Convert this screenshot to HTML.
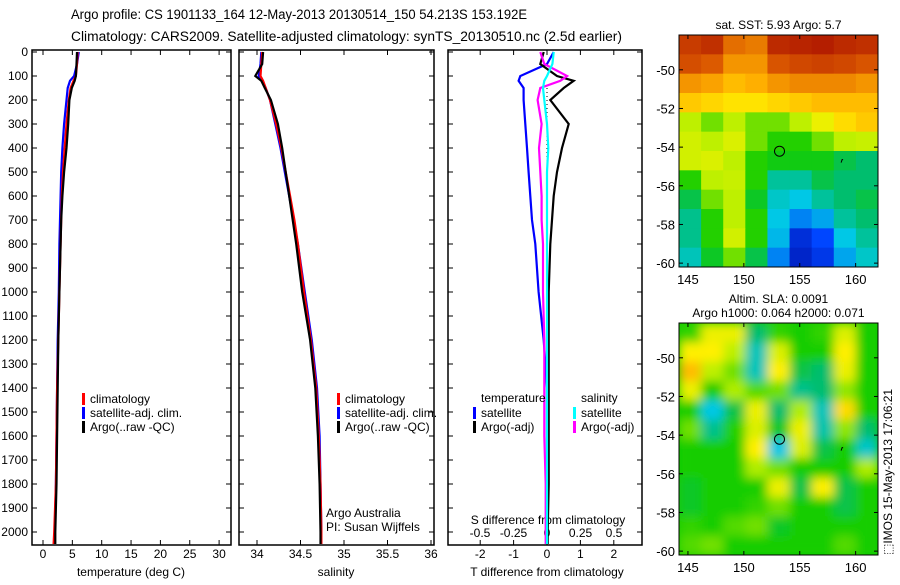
<!DOCTYPE html>
<html><head><meta charset="utf-8"><style>
body{margin:0;background:#fff;width:900px;height:580px;overflow:hidden;font-family:"Liberation Sans",sans-serif}
svg text{font-family:"Liberation Sans",sans-serif;font-size:12px;fill:#000}
</style></head><body>
<svg id="fig" width="900" height="580" viewBox="0 0 900 580" xmlns="http://www.w3.org/2000/svg">
<text x="71" y="19" textLength="456" lengthAdjust="spacingAndGlyphs" style="font-size:13.5px">Argo profile: CS 1901133_164 12-May-2013 20130514_150 54.213S 153.192E</text>
<text x="71" y="41" textLength="551" lengthAdjust="spacingAndGlyphs" style="font-size:13.5px">Climatology: CARS2009. Satellite-adjusted climatology: synTS_20130510.nc (2.5d earlier)</text>
<g id="g1"></g>
<g id="g2"></g>
<g id="g3"></g>
<g id="m1"></g>
<g id="m2"></g>
<text x="892" y="555" transform="rotate(-90 892 555)" style="font-size:12px">⬚IMOS 15-May-2013 17:06:21</text>
</svg>
<script>
// ---- data ----
const depths = [0,50,100,120,150,200,300,400,500,600,700,800,1000,1200,1400,1600,1800,2000,2050];
const tempClim = [5.9,5.8,5.6,5.2,4.7,4.4,4.0,3.7,3.4,3.2,3.1,3.0,2.8,2.6,2.4,2.3,2.2,1.9,1.8];
const tempSat  = [6.1,5.8,5.3,4.6,4.2,4.0,3.6,3.3,3.1,3.0,2.9,2.8,2.7,2.5,2.4,2.3,2.2,2.0,2.0];
const tempArgo = [5.8,5.7,5.6,5.4,4.9,4.5,4.3,4.0,3.6,3.3,3.1,3.0,2.8,2.6,2.5,2.4,2.3,2.1,2.1];
const salClim = [34.06,34.05,34.04,34.07,34.10,34.15,34.22,34.28,34.33,34.38,34.43,34.47,34.54,34.62,34.68,34.71,34.73,34.74,34.74];
const salSat  = [34.05,34.04,34.02,34.06,34.10,34.15,34.21,34.27,34.32,34.37,34.42,34.47,34.55,34.63,34.69,34.72,34.73,34.74,34.74];
const salArgo = [34.07,34.06,33.98,34.05,34.09,34.16,34.24,34.29,34.33,34.37,34.41,34.45,34.52,34.61,34.67,34.70,34.72,34.73,34.73];
const dTsat  = [0.2,0.0,-0.8,-0.85,-0.7,-0.7,-0.65,-0.6,-0.55,-0.5,-0.45,-0.35,-0.25,-0.1,0.0,0.0,0.0,0.0,0.0];
const dTargo = [-0.1,-0.2,0.3,0.8,0.5,0.1,0.65,0.45,0.3,0.2,0.15,0.1,0.05,0.05,0.05,0.05,0.05,0.02,0.02];
const dSsat  = [0.05,0.04,0.0,-0.02,-0.03,-0.02,0.0,0.01,0.0,0.0,0.0,0.0,0.0,0.0,0.0,0.0,0.0,0.0,0.0];
const dSargo = [-0.05,-0.02,0.15,0.1,-0.05,-0.07,-0.04,-0.06,-0.05,-0.04,-0.04,-0.03,-0.03,-0.02,-0.02,-0.02,-0.01,-0.01,-0.01];
const depthTicks = [0,100,200,300,400,500,600,700,800,900,1000,1100,1200,1300,1400,1500,1600,1700,1800,1900,2000];
const tempTicks = [0,5,10,15,20,25,30];
const salTicks = [34,34.5,35,35.5,36];
const dTTicks = [-2,-1,0,1,2];
const dSTicks = [-0.5,-0.25,0,0.25,0.5];
const dSLabels = ["-0.5","-0.25","0","0.25","0.5"];
const sstGrid = [
[0.90,0.92,0.82,0.80,0.93,0.94,0.95,0.93,0.92],
[0.87,0.85,0.76,0.76,0.86,0.88,0.89,0.88,0.86],
[0.76,0.74,0.70,0.72,0.76,0.78,0.78,0.78,0.76],
[0.68,0.66,0.64,0.64,0.66,0.68,0.70,0.70,0.70],
[0.55,0.50,0.55,0.50,0.50,0.55,0.60,0.65,0.68],
[0.57,0.55,0.58,0.50,0.45,0.45,0.50,0.55,0.56],
[0.57,0.58,0.55,0.45,0.43,0.43,0.43,0.40,0.38],
[0.45,0.55,0.56,0.45,0.35,0.35,0.40,0.38,0.38],
[0.40,0.50,0.55,0.42,0.32,0.30,0.35,0.38,0.40],
[0.36,0.45,0.55,0.45,0.30,0.22,0.26,0.35,0.38],
[0.36,0.45,0.57,0.45,0.28,0.10,0.15,0.30,0.35],
[0.33,0.42,0.50,0.40,0.22,0.08,0.12,0.26,0.32]];
const slaGrid = [
[0.46,0.60,0.60,0.38,0.46,0.44,0.46,0.58,0.44],
[0.62,0.62,0.55,0.33,0.58,0.44,0.44,0.62,0.44],
[0.70,0.55,0.50,0.33,0.62,0.40,0.38,0.60,0.44],
[0.60,0.44,0.54,0.48,0.50,0.36,0.38,0.52,0.44],
[0.44,0.30,0.40,0.60,0.38,0.54,0.33,0.65,0.44],
[0.50,0.36,0.45,0.58,0.42,0.60,0.34,0.52,0.38],
[0.44,0.44,0.44,0.62,0.30,0.58,0.40,0.44,0.32],
[0.44,0.44,0.44,0.54,0.50,0.44,0.44,0.44,0.54],
[0.42,0.44,0.44,0.44,0.60,0.40,0.62,0.40,0.44],
[0.42,0.44,0.44,0.46,0.50,0.44,0.44,0.40,0.44],
[0.46,0.44,0.48,0.50,0.42,0.44,0.44,0.44,0.44],
[0.48,0.50,0.44,0.44,0.44,0.44,0.44,0.48,0.44]];
const lonTicks = [145,150,155,160];
const latTicks = [-50,-52,-54,-56,-58,-60];
const argoLon = 153.19, argoLat = -54.21;

const NS="http://www.w3.org/2000/svg";
function mk(p,t,a){const e=document.createElementNS(NS,t);for(const k in a)e.setAttribute(k,a[k]);p.appendChild(e);return e;}
function txt(p,x,y,s,anchor){const e=mk(p,'text',{x:x,y:y,'text-anchor':anchor||'start'});e.textContent=s;return e;}

const yTop=50,yBot=545;
const yD=d=>52+d*0.24;
function box(g,x0,x1){const r=mk(g,'rect',{x:x0,y:yTop,width:x1-x0,height:yBot-yTop,fill:'none',stroke:'#000','stroke-width':1.5});
}
function line(g,xs,xf,color,name){const pts=depths.map((d,i)=>xf(xs[i]).toFixed(1)+','+yD(d).toFixed(1)).join(' ');
const p=mk(g,'polyline',{points:pts,fill:'none',stroke:color,'stroke-width':2.2});
}
function xticks(g,ticks,xf,labels,y){ticks.forEach((t,i)=>{const x=xf(t);
mk(g,'line',{x1:x,x2:x,y1:yBot,y2:yBot-5,stroke:'#000'});mk(g,'line',{x1:x,x2:x,y1:yTop,y2:yTop+5,stroke:'#000'});
const e=txt(g,x,y,labels?labels[i]:String(t),'middle');});}
function yticks(g,x0,x1,labels){depthTicks.forEach(d=>{const y=yD(d);mk(g,'line',{x1:x0,x2:x0+5,y1:y,y2:y,stroke:'#000'});mk(g,'line',{x1:x1,x2:x1-5,y1:y,y2:y,stroke:'#000'});
if(labels){const e=txt(g,x0-4,y+4,String(d),'end');}});}
function legend(g,x,y,items){items.forEach((it,i)=>{mk(g,'rect',{x:x,y:y+i*14-9,width:3,height:12,fill:it[0]});
const e=txt(g,x+8,y+i*14+1,it[1]);});}

// panel 1
const g1=document.getElementById('g1');const xT=v=>43+v*5.87;
box(g1,32,231);yticks(g1,32,231,true);xticks(g1,tempTicks,xT,null,558);
line(g1,tempSat,xT,'#0000ff','temp-satellite-line');line(g1,tempClim,xT,'#ff0000','temp-climatology-line');line(g1,tempArgo,xT,'#000','temp-argo-line');
legend(g1,82,402,[['#f00','climatology'],['#00f','satellite-adj. clim.'],['#000','Argo(..raw -QC)']]);
txt(g1,131,576,'temperature (deg C)','middle');
// panel 2
const g2=document.getElementById('g2');const xS=v=>257+(v-34)*87;
box(g2,239,434);yticks(g2,239,434,false);xticks(g2,salTicks,xS,null,558);
line(g2,salSat,xS,'#0000ff','sal-satellite-line');line(g2,salClim,xS,'#ff0000','sal-climatology-line');line(g2,salArgo,xS,'#000','sal-argo-line');
legend(g2,337,402,[['#f00','climatology'],['#00f','satellite-adj. clim.'],['#000','Argo(..raw -QC)']]);
txt(g2,326,517,'Argo Australia');txt(g2,326,531,'PI: Susan Wijffels');
txt(g2,336,576,'salinity','middle');
// panel 3
const g3=document.getElementById('g3');const xdT=v=>547+v*33.4;const xdS=v=>547+v*134;
box(g3,448,642);yticks(g3,448,642,false);xticks(g3,dTTicks,xdT,null,558);
dSTicks.forEach((t,i)=>{const e=txt(g3,xdS(t),537,dSLabels[i],'middle');});
txt(g3,548,524,'S difference from climatology','middle');
mk(g3,'line',{x1:xdT(0),x2:xdT(0),y1:yD(150),y2:yBot,stroke:'#000','stroke-dasharray':'1,3'});
line(g3,dTsat,xdT,'#0000ff','dT-satellite-line');line(g3,dTargo,xdT,'#000','dT-argo-line');
line(g3,dSargo,xdS,'#ff00ff','dS-argo-line');line(g3,dSsat,xdS,'#00ffff','dS-satellite-line');
txt(g3,481,402,'temperature');txt(g3,581,402,'salinity');
legend(g3,473,416,[['#00f','satellite'],['#000','Argo(-adj)']]);
legend(g3,573,416,[['#0ff','satellite'],['#f0f','Argo(-adj)']]);
txt(g3,547,576,'T difference from climatology','middle');

// maps
const cstops=[[0,[0,0,140]],[0.15,[0,70,255]],[0.3,[0,200,230]],[0.38,[0,190,110]],[0.44,[20,205,0]],[0.55,[190,240,0]],[0.62,[255,240,0]],[0.72,[255,175,0]],[0.85,[220,90,0]],[1,[160,0,0]]];
function cmap(v){for(let i=1;i<cstops.length;i++){if(v<=cstops[i][0]){const a=cstops[i-1],b=cstops[i],f=(v-a[0])/(b[0]-a[0]);
return 'rgb('+a[1].map((c,j)=>Math.round(c+(b[1][j]-c)*f)).join(',')+')';}}return 'rgb(160,0,0)';}
function map(id,grid,y0,y1,latTop,latBot,title,smooth){
const g=document.getElementById(id);const x0=679,x1=878;const lonL=144.2,lonR=162;
const xL=l=>x0+(l-lonL)*(x1-x0)/(lonR-lonL);const yL=l=>y0+(latTop-l)*(y1-y0)/(latTop-latBot);
const rows=grid.length,cols=grid[0].length;
const defs=mk(g,'defs',{});
const cid='clip'+id;const cp=mk(defs,'clipPath',{id:cid});mk(cp,'rect',{x:x0,y:y0,width:x1-x0,height:y1-y0});
if(smooth){const f=mk(defs,'filter',{id:'blur'+id,x:'-10%',y:'-10%',width:'120%',height:'120%'});mk(f,'feGaussianBlur',{stdDeviation:5});}
const cg=mk(g,'g',{'clip-path':'url(#'+cid+')'});
if(smooth)mk(cg,'rect',{x:x0,y:y0,width:x1-x0,height:y1-y0,fill:cmap(0.44)});
const ig=mk(cg,'g',smooth?{filter:'url(#blur'+id+')'}:{});
const cw=(x1-x0)/cols,ch=(y1-y0)/rows;
grid.forEach((row,r)=>row.forEach((v,c)=>{const e=mk(ig,'rect',{x:x0+c*cw,y:y0+r*ch,width:cw+0.5,height:ch+0.5,fill:cmap(v)});
}));
mk(g,'rect',{x:x0,y:y0,width:x1-x0,height:y1-y0,fill:'none',stroke:'#000'});
lonTicks.forEach(l=>{const x=xL(l);mk(g,'line',{x1:x,x2:x,y1:y1,y2:y1-4,stroke:'#000'});mk(g,'line',{x1:x,x2:x,y1:y0,y2:y0+4,stroke:'#000'});
const e=txt(g,x,y1+17,String(l),'middle');e.style.fontSize='13px';});
latTicks.forEach(l=>{const y=yL(l);mk(g,'line',{x1:x0,x2:x0+4,y1:y,y2:y,stroke:'#000'});mk(g,'line',{x1:x1,x2:x1-4,y1:y,y2:y,stroke:'#000'});
const e=txt(g,x0-4,y+5,String(l),'end');e.style.fontSize='13px';});
const c=mk(g,'circle',{cx:xL(argoLon),cy:yL(argoLat),r:5,fill:'none',stroke:'#000'});
mk(g,'path',{d:'M'+xL(158.7)+' '+yL(-54.8)+' l1 -3 l1 0',stroke:'#000',fill:'none'});
title.forEach((t,i)=>{const e=txt(g,(x0+x1)/2,y0-(title.length-i)*14+8,t,'middle');});
}
map('m1',sstGrid,35,267,-48.2,-60.2,['sat. SST: 5.93 Argo: 5.7'],false);
map('m2',slaGrid,323,555,-48.2,-60.2,['Altim. SLA: 0.0091','Argo h1000: 0.064 h2000: 0.071'],true);
</script>
</body></html>
